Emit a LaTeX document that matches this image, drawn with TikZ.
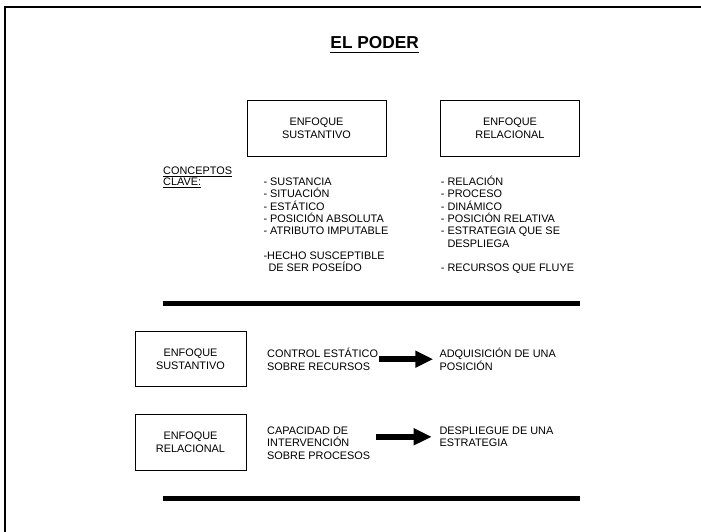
\documentclass[tikz,border=0pt]{standalone}
\usepackage{fontspec}
\setmainfont{Liberation Sans}
\usetikzlibrary{arrows.meta}
\tikzset{
  txt/.style={font=\fontsize{10.9}{12.35}\selectfont, inner sep=0pt, align=left},
  boxnode/.style={draw, line width=1pt, font=\fontsize{10.9}{12.6}\selectfont, align=center, inner sep=0pt},
  rulebar/.style={line width=4.7pt},
  bigarrow/.style={line width=6pt, -{Triangle[length=18pt,width=16pt]}},
  uline/.style={line width=0.8pt},
  frame/.style={line width=2pt}
}
\begin{document}
\begin{tikzpicture}[x=1pt,y=-1pt]
\useasboundingbox (0,0) rectangle (701,531);
% frame
\draw[frame] (5,540) -- (5,7) -- (710,7);
% title
\node[font=\fontsize{17.3}{20}\selectfont\bfseries, inner sep=0pt, anchor=base] (title) at (374.7,48.3) {EL PODER};
\draw[line width=1.5pt] ([yshift=-4pt]title.base west) -- ([yshift=-4pt]title.base east);
% top boxes
\node[boxnode, minimum width=139pt, minimum height=56pt] (b1) at (316.5,128) {ENFOQUE\\SUSTANTIVO};
\node[boxnode, minimum width=138.5pt, minimum height=56pt] (b2) at (510,128) {ENFOQUE\\RELACIONAL};
% conceptos clave
\node[txt, anchor=base west] (cc) at (163,174) {CONCEPTOS};
\node[txt, anchor=base west] (cl) at (163,185.3) {CLAVE:};
\draw[uline] ([yshift=-2pt]cc.base west) -- ([yshift=-2pt]cc.base east);
\draw[uline] ([yshift=-2pt]cl.base west) -- ([yshift=-2pt]cl.base east);
% lists (anchor at the baseline of the last line)
\node[txt, anchor=base west] (ls) at (263.3,271.9) {- SUSTANCIA\\- SITUACIÓN\\- ESTÁTICO\\- POSICIÓN ABSOLUTA\\- ATRIBUTO IMPUTABLE\\[12.35pt]-HECHO SUSCEPTIBLE\\\hspace*{5pt}DE SER POSEÍDO};
\node[txt, anchor=base west] (rs) at (440.7,271.9) {- RELACIÓN\\- PROCESO\\- DINÁMICO\\- POSICIÓN RELATIVA\\- ESTRATEGIA QUE SE\\\hspace*{6.6pt}DESPLIEGA\\[12.35pt]- RECURSOS QUE FLUYE};
% separators
\coordinate (r1a) at (162.7,303.3);
\coordinate (r1b) at (580,303.3);
\coordinate (r2a) at (163.3,498.3);
\coordinate (r2b) at (580,498.3);
\draw[rulebar] (r1a) -- (r1b);
\draw[rulebar] (r2a) -- (r2b);
% lower boxes
\node[boxnode, minimum width=111pt, minimum height=55pt] (b3) at (190.5,359.2) {ENFOQUE\\SUSTANTIVO};
\node[boxnode, minimum width=111pt, minimum height=55.7pt] (b4) at (190.5,442.2) {ENFOQUE\\RELACIONAL};
% middle texts
\node[txt, anchor=base west] (ctrl) at (267,370) {CONTROL ESTÁTICO\\SOBRE RECURSOS};
\node[txt, anchor=base west] (adq) at (439.3,370) {ADQUISICIÓN DE UNA\\POSICIÓN};
\node[txt, anchor=base west] (cap) at (267,459.3) {CAPACIDAD DE\\INTERVENCIÓN\\SOBRE PROCESOS};
\node[txt, anchor=base west] (desp) at (439.3,446.7) {DESPLIEGUE DE UNA\\ESTRATEGIA};
% arrows
\draw[bigarrow, shorten <=0.5pt, shorten >=6pt] (ctrl.east |- adq.west) -- (adq.west);
\draw[bigarrow, shorten <=6pt, shorten >=7.6pt] (cap.east |- desp.west) -- (desp.west);
\end{tikzpicture}
\end{document}
